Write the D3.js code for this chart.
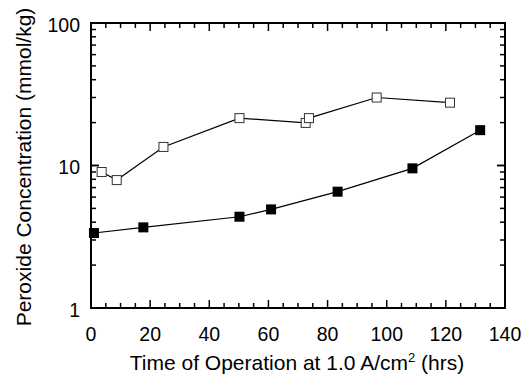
<!DOCTYPE html>
<html><head><meta charset="utf-8">
<script src="https://cdn.jsdelivr.net/npm/d3@7"></script>
<style>body{margin:0;background:#fff}svg{display:block}text{font-family:"Liberation Sans",Arial,sans-serif;fill:#000}</style>
</head><body>
<svg id="c" width="526" height="379"></svg>
<script>
const openX = [3.6, 8.7, 24.5, 50.2, 72.6, 73.7, 96.6, 121.4];
const openY = [9.0, 7.9, 13.5, 21.5, 19.9, 21.5, 30.0, 27.6];
const filledX = [1.0, 17.7, 50.2, 60.9, 83.4, 108.7, 131.6];
const filledY = [3.36, 3.68, 4.37, 4.92, 6.55, 9.55, 17.7];
const xTicks = [0, 20, 40, 60, 80, 100, 120, 140];
const yTicks = [1, 10, 100];
const xLabel = "Time of Operation at 1.0 A/cm";
const yLabel = "Peroxide Concentration (mmol/kg)";

const svg = d3.select("#c");
const L = 91, R = 505, T = 23, B = 308;
const x = d3.scaleLinear().domain([0, 140]).range([L, R]);
const y = d3.scaleLog().domain([1, 100]).range([B, T]);

const g = svg.append("g");
const xMinor = d3.range(0, 141, 5);
const yMinor = [];
[1, 10].forEach(d => { for (let k = 1; k <= 10; k++) yMinor.push(d * k); });

const tickG = g.append("g").attr("stroke", "#000").attr("stroke-width", 1.5);
xMinor.forEach(v => {
  const len = v % 20 === 0 ? 8 : 5;
  tickG.append("line").attr("x1", x(v)).attr("x2", x(v)).attr("y1", B).attr("y2", B - len);
  tickG.append("line").attr("x1", x(v)).attr("x2", x(v)).attr("y1", T).attr("y2", T + len);
});
yMinor.forEach(v => {
  const len = (v === 1 || v === 10 || v === 100) ? 8 : 5;
  tickG.append("line").attr("x1", L).attr("x2", L + len).attr("y1", y(v)).attr("y2", y(v));
  tickG.append("line").attr("x1", R).attr("x2", R - len).attr("y1", y(v)).attr("y2", y(v));
});
g.append("rect").attr("x", L).attr("y", T).attr("width", R - L).attr("height", B - T)
  .attr("fill", "none").attr("stroke", "#000").attr("stroke-width", 2);

g.selectAll(".xt").data(xTicks).enter().append("text")
  .attr("x", d => x(d)).attr("y", 341).attr("text-anchor", "middle")
  .attr("font-size", 19.5).text(d => d);
g.selectAll(".yt").data(yTicks).enter().append("text")
  .attr("x", 80).attr("y", d => y(d)).attr("dy", "0.45em").attr("text-anchor", "end")
  .attr("font-size", 19.5).text(d => d);

const xl = g.append("text").attr("x", 297).attr("y", 370).attr("text-anchor", "middle").attr("font-size", 21);
xl.append("tspan").text(xLabel);
xl.append("tspan").attr("font-size", 13).attr("dy", -8).text("2");
xl.append("tspan").attr("dy", 8).text(" (hrs)");
g.append("text").attr("transform", "translate(31,167) rotate(-90)").attr("text-anchor", "middle")
  .attr("font-size", 21).text(yLabel);

const line = d3.line().x(d => x(d[0])).y(d => y(d[1]));
const openData = openX.map((v, i) => [v, openY[i]]);
const filledData = filledX.map((v, i) => [v, filledY[i]]);
g.append("path").attr("d", line(openData)).attr("fill", "none").attr("stroke", "#000").attr("stroke-width", 1.2);
g.append("path").attr("d", line(filledData)).attr("fill", "none").attr("stroke", "#000").attr("stroke-width", 1.2);
const s = 9;
g.selectAll(".o").data(openData).enter().append("rect")
  .attr("x", d => x(d[0]) - s / 2).attr("y", d => y(d[1]) - s / 2).attr("width", s).attr("height", s)
  .attr("fill", "#fff").attr("stroke", "#333").attr("stroke-width", 1);
const f = 10;
g.selectAll(".f").data(filledData).enter().append("rect")
  .attr("x", d => x(d[0]) - f / 2).attr("y", d => y(d[1]) - f / 2).attr("width", f).attr("height", f)
  .attr("fill", "#000");
</script>
</body></html>
